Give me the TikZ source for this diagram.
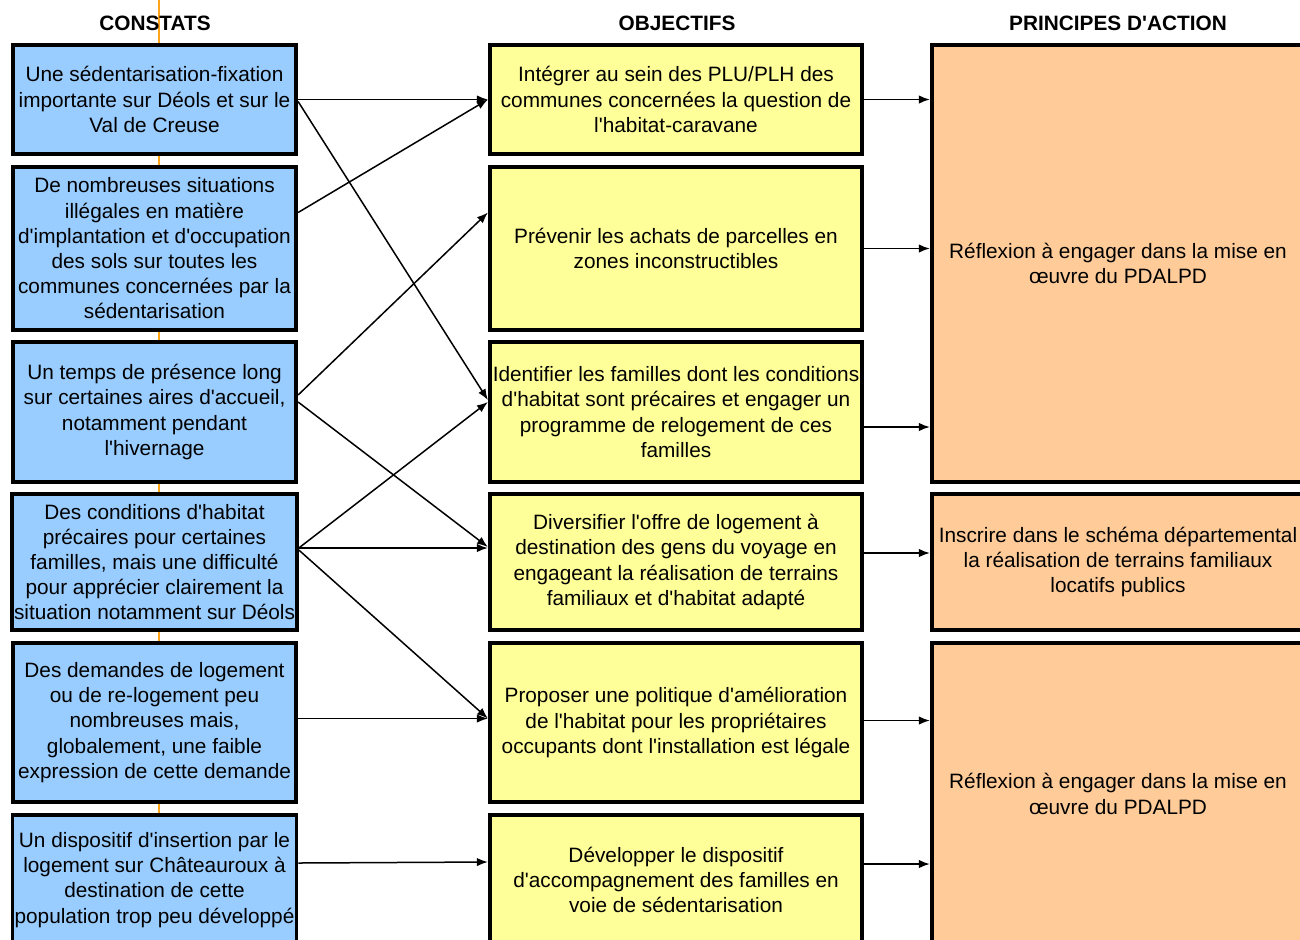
\documentclass[tikz,border=0pt]{standalone}
\usepackage{fontspec}
\setmainfont{Liberation Sans}[Ligatures=TeXOff]
\usepackage{tikz}
\usetikzlibrary{arrows.meta,positioning}
\definecolor{constatblue}{HTML}{99CCFF}
\definecolor{objyellow}{HTML}{FFFF99}
\definecolor{actionorange}{HTML}{FFCC99}
\definecolor{guideorange}{HTML}{FFA31A}

\begin{document}
\begin{tikzpicture}[
    x=0.5pt, y=-0.5pt,
    every node/.style={
      font=\fontsize{10.4}{12.6}\selectfont,
      align=center, inner sep=1pt
    },
    box/.style={draw, line width=1.85pt},
    constat/.style={box, fill=constatblue, minimum width=141.75pt},
    objectif/.style={box, fill=objyellow, minimum width=186.25pt},
    principe/.style={box, fill=actionorange, minimum width=186.25pt},
    header/.style={font=\fontsize{10.4}{12.5}\selectfont\bfseries},
    link/.style={draw, line width=0.75pt, -{Latex[length=5.5pt,width=4.2pt]}}
  ]
  \clip (0,0) rectangle (1300,939);

  % guide line
  \draw[guideorange, line width=1pt] (159,0) coordinate (gtop) -- (159,939) coordinate (gbot);

  % Headers
  \node[header] (hc) at (155,23) {CONSTATS};
  \node[header] (ho) at (677,23) {OBJECTIFS};
  \node[header] (hp) at (1118,23) {PRINCIPES D'ACTION};

  % Constats
  \node[constat, minimum height=54.75pt] (c1) at (154.5,99.5)
    {Une sédentarisation-fixation\\ importante sur Déols et sur le\\ Val de Creuse};
  \node[constat, minimum height=81.75pt] (c2) at (154.5,248.5)
    {De nombreuses situations\\ illégales en matière\\ d'implantation et d'occupation\\ des sols sur toutes les\\ communes concernées par la\\ sédentarisation};
  \node[constat, minimum height=70.25pt] (c3) at (154.5,412)
    {Un temps de présence long\\ sur certaines aires d'accueil,\\ notamment pendant\\ l'hivernage};
  \node[constat, minimum height=68.25pt] (c4) at (154.5,562)
    {Des conditions d'habitat\\ précaires pour certaines\\ familles, mais une difficulté\\ pour apprécier clairement la\\ situation notamment sur Déols};
  \node[constat, minimum height=79.75pt] (c5) at (154.5,722.5)
    {Des demandes de logement\\ ou de re-logement peu\\ nombreuses mais,\\ globalement, une faible\\ expression de cette demande};
  \node[constat, minimum height=65.25pt] (c6) at (154.5,880)
    {Un dispositif d'insertion par le\\ logement sur Châteauroux à\\ destination de cette\\ population trop peu développé};

  % Objectifs
  \node[objectif, minimum height=54.75pt] (o1) at (676,99.5)
    {Intégrer au sein des PLU/PLH des\\ communes concernées la question de\\ l'habitat-caravane};
  \node[objectif, minimum height=81.75pt] (o2) at (676,248.5)
    {Prévenir les achats de parcelles en\\ zones inconstructibles};
  \node[objectif, minimum height=70.25pt] (o3) at (676,412)
    {Identifier les familles dont les conditions\\ d'habitat sont précaires et engager un\\ programme de relogement de ces\\ familles};
  \node[objectif, minimum height=68.25pt] (o4) at (676,562)
    {Diversifier l'offre de logement à\\ destination des gens du voyage en\\ engageant la réalisation de terrains\\ familiaux et d'habitat adapté};
  \node[objectif, minimum height=79.75pt] (o5) at (676,722.5)
    {Proposer une politique d'amélioration\\ de l'habitat pour les propriétaires\\ occupants dont l'installation est légale};
  \node[objectif, minimum height=65.25pt] (o6) at (676,880)
    {Développer le dispositif\\ d'accompagnement des familles en\\ voie de sédentarisation};

  % Principes d'action
  \node[principe, minimum height=218.75pt] (p1) at (1118,263.5)
    {Réflexion à engager dans la mise en\\ œuvre du PDALPD};
  \node[principe, minimum height=68.25pt] (p2) at (1118,562)
    {Inscrire dans le schéma départemental\\ la réalisation de terrains familiaux\\ locatifs publics};
  \node[principe, minimum height=151.25pt] (p3) at (1118,794)
    {Réflexion à engager dans la mise en\\ œuvre du PDALPD};

  % Constats -> objectifs
  \draw[link] (c1.east) -- (o1.west);
  \draw[link] ([yshift=-1pt]c1.east) -- ([yshift=6pt]o3.west);
  \draw[link] ([yshift=18pt]c2.east) -- (o1.west);
  \draw[link] ([yshift=8.5pt]c3.east) -- ([yshift=18pt]o2.west);
  \draw[link] ([yshift=5pt]c3.east) -- ([yshift=7.5pt]o4.west);
  \draw[link] ([yshift=7pt]c4.east) -- ([yshift=5pt]o3.west);
  \draw[link] ([yshift=7pt]c4.east) -- ([yshift=7pt]o4.west);
  \draw[link] ([yshift=6pt]c4.east) -- ([yshift=2pt]o5.west);
  \draw[link] ([yshift=2pt]c5.east) -- ([yshift=2pt]o5.west);
  \draw[link] ([yshift=8.5pt]c6.east) -- ([yshift=9pt]o6.west);

  % Objectifs -> principes
  \draw[link] (o1.east) -- (o1.east -| p1.west);
  \draw[link] (o2.east) -- (o2.east -| p1.west);
  \draw[link] ([yshift=-7.5pt]o3.east) -- ([yshift=-7.5pt]o3.east -| p1.west);
  \draw[link] ([yshift=4.5pt]o4.east) -- ([yshift=4.5pt]o4.east -| p2.west);
  \draw[link] ([yshift=1pt]o5.east) -- ([yshift=1pt]o5.east -| p3.west);
  \draw[link] ([yshift=8pt]o6.east) -- ([yshift=8pt]o6.east -| p3.west);
\end{tikzpicture}
\end{document}
